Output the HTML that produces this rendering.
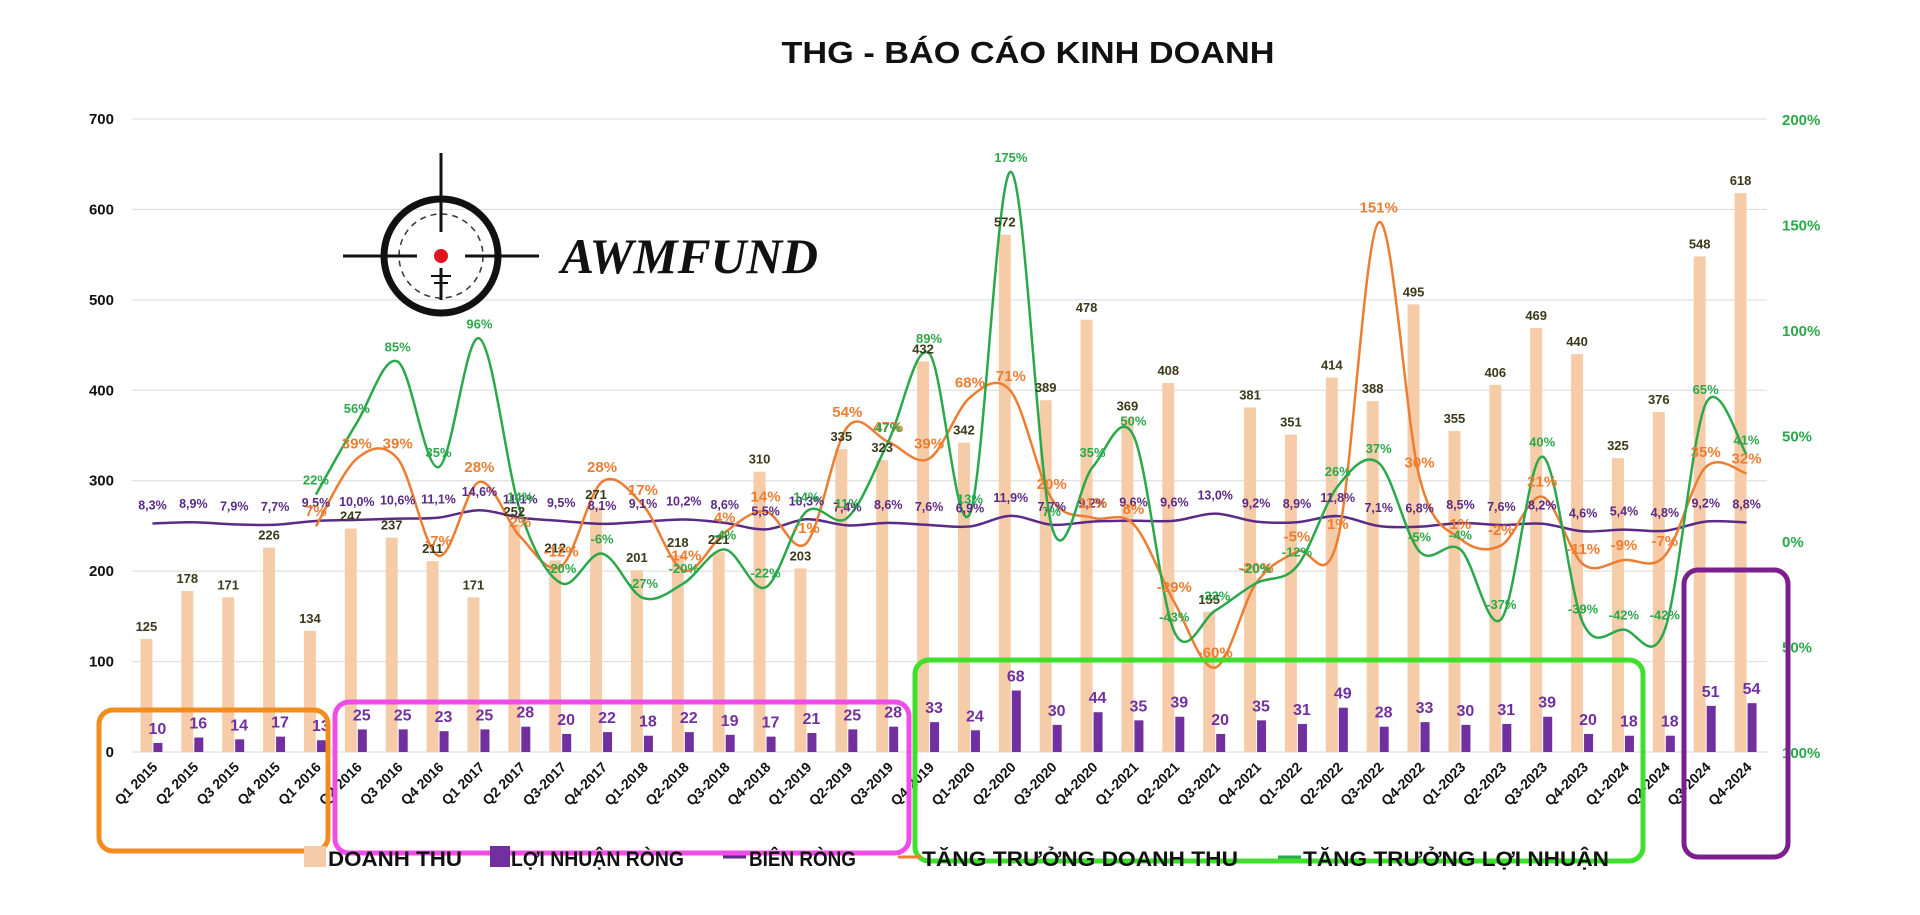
<!DOCTYPE html>
<html><head><meta charset="utf-8"><style>
html,body{margin:0;padding:0;background:#fff;}
svg{display:block;font-family:"Liberation Sans",sans-serif;}
</style></head><body>
<svg id="chart" width="1920" height="915" viewBox="0 0 1920 915" xmlns="http://www.w3.org/2000/svg">
<text x="1028" y="63" text-anchor="middle" font-size="31" font-weight="bold" textLength="493" lengthAdjust="spacingAndGlyphs" fill="#111">THG - BÁO CÁO KINH DOANH</text>
<g id="grid"></g>
<g id="bars"></g>
<g id="lines"></g>
<g id="labels"></g>
<g id="axes"></g>
<g>
<circle cx="441" cy="256" r="57" fill="none" stroke="#111" stroke-width="7"/>
<circle cx="441" cy="256" r="42" fill="none" stroke="#333" stroke-width="1.5" stroke-dasharray="6 5"/>
<line x1="343" y1="256" x2="417" y2="256" stroke="#111" stroke-width="3"/>
<line x1="465" y1="256" x2="539" y2="256" stroke="#111" stroke-width="3"/>
<line x1="441" y1="153" x2="441" y2="232" stroke="#111" stroke-width="3"/>
<line x1="441" y1="268" x2="441" y2="300" stroke="#111" stroke-width="3"/>
<line x1="431" y1="276" x2="451" y2="276" stroke="#111" stroke-width="2"/>
<line x1="434" y1="283" x2="448" y2="283" stroke="#111" stroke-width="2"/>
<circle cx="441" cy="256" r="7" fill="#e0141e"/>
<text x="561" y="273" font-family="Liberation Serif,serif" font-style="italic" font-weight="bold" font-size="50" textLength="257" lengthAdjust="spacingAndGlyphs" fill="#111">AWMFUND</text>
</g>
<g fill="none" stroke-width="5">
<rect x="99" y="710" width="229" height="141" rx="14" stroke="#f28c1c"/>
<rect x="335" y="702" width="574" height="151" rx="14" stroke="#f04ce8"/>
<rect x="915" y="660" width="728" height="201" rx="14" stroke="#3ee02c"/>
<rect x="1684" y="570" width="104" height="287" rx="14" stroke="#7a1f8c"/>
</g>
<g font-weight="bold" font-size="21" fill="#111">
<g><rect x="304" y="846" width="22" height="21" fill="#f6cca8"/><text x="328" y="866" textLength="134" lengthAdjust="spacingAndGlyphs">DOANH THU</text></g>
<g><rect x="490" y="846" width="20" height="21" fill="#7030a0"/><text x="511" y="866" textLength="173" lengthAdjust="spacingAndGlyphs">LỢI NHUẬN RÒNG</text></g>
<g><line x1="723" y1="857" x2="746" y2="857" stroke="#5b2a86" stroke-width="3"/><text x="749" y="866" textLength="107" lengthAdjust="spacingAndGlyphs">BIÊN RÒNG</text></g>
<g><line x1="898" y1="857" x2="921" y2="857" stroke="#ed7d31" stroke-width="3"/><text x="922" y="866" textLength="316" lengthAdjust="spacingAndGlyphs">TĂNG TRƯỞNG DOANH THU</text></g>
<g><line x1="1278" y1="857" x2="1301" y2="857" stroke="#2aa84a" stroke-width="3"/><text x="1303" y="866" textLength="306" lengthAdjust="spacingAndGlyphs">TĂNG TRƯỞNG LỢI NHUẬN</text></g>
</g>
</svg>
<script>
const categories=["Q1 2015","Q2 2015","Q3 2015","Q4 2015","Q1 2016","Q2 2016","Q3 2016","Q4 2016","Q1 2017","Q2 2017","Q3-2017","Q4-2017","Q1-2018","Q2-2018","Q3-2018","Q4-2018","Q1-2019","Q2-2019","Q3-2019","Q4-2019","Q1-2020","Q2-2020","Q3-2020","Q4-2020","Q1-2021","Q2-2021","Q3-2021","Q4-2021","Q1-2022","Q2-2022","Q3-2022","Q4-2022","Q1-2023","Q2-2023","Q3-2023","Q4-2023","Q1-2024","Q2-2024","Q3-2024","Q4-2024"];
const revenue=[125,178,171,226,134,247,237,211,171,252,212,271,201,218,221,310,203,335,323,432,342,572,389,478,369,408,155,381,351,414,388,495,355,406,469,440,325,376,548,618];
const profit=[10,16,14,17,13,25,25,23,25,28,20,22,18,22,19,17,21,25,28,33,24,68,30,44,35,39,20,35,31,49,28,33,30,31,39,20,18,18,51,54];
const margin=[8.3,8.9,7.9,7.7,9.5,10.0,10.6,11.1,14.6,11.1,9.5,8.1,9.1,10.2,8.6,5.5,10.3,7.4,8.6,7.6,6.9,11.9,7.7,9.2,9.6,9.6,13.0,9.2,8.9,11.8,7.1,6.8,8.5,7.6,8.2,4.6,5.4,4.8,9.2,8.8];
const revGrowthStart=4;
const revGrowth=[7,39,39,-7,28,2,-12,28,17,-14,4,14,-1,54,47,39,68,71,20,11,8,-29,-60,-20,-5,1,151,30,1,-2,21,-11,-9,-7,35,32];
const profGrowth=[22,56,85,35,96,14,-20,-6,-27,-20,-4,-22,14,11,47,89,13,175,7,35,50,-43,-33,-20,-12,26,37,-5,-4,-37,40,-39,-42,-42,65,41];
const leftTicks=[0,100,200,300,400,500,600,700];
const rightTicks=[-100,-50,0,50,100,150,200];
const rightTickLabels=["100%","50%","0%","50%","100%","150%","200%"];

const NS="http://www.w3.org/2000/svg";
const X0=132,X1=1767,Y0=752,YT=119;
const bw=(X1-X0)/categories.length;
function xC(i){return X0+bw*(i+0.5);}
function yL(v){return Y0-v/700*(Y0-YT);}
function yR(p){return Y0-(p+100)/300*(Y0-YT);}
function mk(tag,attrs,parent,txt){const e=document.createElementNS(NS,tag);for(const k in attrs)e.setAttribute(k,attrs[k]);if(txt!==undefined)e.textContent=txt;parent.appendChild(e);return e;}
const G=id=>document.getElementById(id);
const fmt=v=>v.toFixed(1).replace('.',',')+'%';

leftTicks.forEach(t=>{
  const l=mk('line',{x1:X0,x2:X1,y1:yL(t),y2:yL(t),stroke:'#d9d9d9','stroke-width':1},G('grid'));
  
  
  const tx=mk('text',{x:114,y:yL(t)+5,'text-anchor':'end','font-size':15,'font-weight':'bold',fill:'#111'},G('axes'),String(t));
  
  
});
rightTicks.forEach((t,i)=>{
  const tx=mk('text',{x:1782,y:yR(t)+6,'font-size':15,'font-weight':'bold',fill:'#2aa84a'},G('axes'),rightTickLabels[i]);
  
  
});
categories.forEach((c,i)=>{
  const x=xC(i);
  const r=mk('rect',{x:x-12,y:yL(revenue[i]),width:12,height:Y0-yL(revenue[i]),fill:'#f6cca8'},G('bars'));
  
  
  const p=mk('rect',{x:x+1,y:yL(profit[i]),width:9,height:Y0-yL(profit[i]),fill:'#7030a0'},G('bars'));
  
  
  const rl=mk('text',{x:x-6,y:yL(revenue[i])-8,'text-anchor':'middle','font-size':13,'font-weight':'bold',fill:'#3a3a1a'},G('labels'),String(revenue[i]));
  
  
  const pl=mk('text',{x:x+5,y:yL(profit[i])-9,'text-anchor':'middle','font-size':16,'font-weight':'bold',fill:'#7030a0'},G('labels'),String(profit[i]));
  
  
  const ml=mk('text',{x:x,y:yR(margin[i])-14,'text-anchor':'middle','font-size':12.5,'font-weight':'bold',fill:'#5b2a86'},G('labels'),fmt(margin[i]));
  
  
  const xl=mk('text',{x:x+6,y:768,'text-anchor':'end','font-size':14,'font-weight':'bold',fill:'#111',transform:`rotate(-45 ${x+6} 768)`},G('axes'),c);
  
  
});
function smooth(pts){
  let d=`M${pts[0][0]},${pts[0][1]}`;
  for(let i=0;i<pts.length-1;i++){
    const p0=pts[Math.max(0,i-1)],p1=pts[i],p2=pts[i+1],p3=pts[Math.min(pts.length-1,i+2)];
    const t=1/3;
    const c1=[p1[0]+(p2[0]-p0[0])*t/2,p1[1]+(p2[1]-p0[1])*t/2];
    const c2=[p2[0]-(p3[0]-p1[0])*t/2,p2[1]-(p3[1]-p1[1])*t/2];
    d+=` C${c1[0]},${c1[1]} ${c2[0]},${c2[1]} ${p2[0]},${p2[1]}`;
  }
  return d;
}
const mPts=margin.map((m,i)=>[xC(i),yR(m)]);
const ml=mk('path',{d:smooth(mPts),fill:'none',stroke:'#5b2a86','stroke-width':2.5},G('lines'));


const rPts=revGrowth.map((g,i)=>[xC(i+revGrowthStart),yR(g)]);
const rl=mk('path',{d:smooth(rPts),fill:'none',stroke:'#ed7d31','stroke-width':2.5},G('lines'));


const gPts=profGrowth.map((g,i)=>[xC(i+revGrowthStart),yR(g)]);
const gl=mk('path',{d:smooth(gPts),fill:'none',stroke:'#2aa84a','stroke-width':2.5},G('lines'));


revGrowth.forEach((g,i)=>{
  const t=mk('text',{x:xC(i+revGrowthStart),y:yR(g)-10,'text-anchor':'middle','font-size':15,'font-weight':'bold',fill:'#ed7d31'},G('labels'),g+'%');
  
  
});
profGrowth.forEach((g,i)=>{
  const t=mk('text',{x:xC(i+revGrowthStart),y:yR(g)-10,'text-anchor':'middle','font-size':13,'font-weight':'bold',fill:'#2aa84a'},G('labels'),g+'%');
  
  
});
</script>
</body></html>
